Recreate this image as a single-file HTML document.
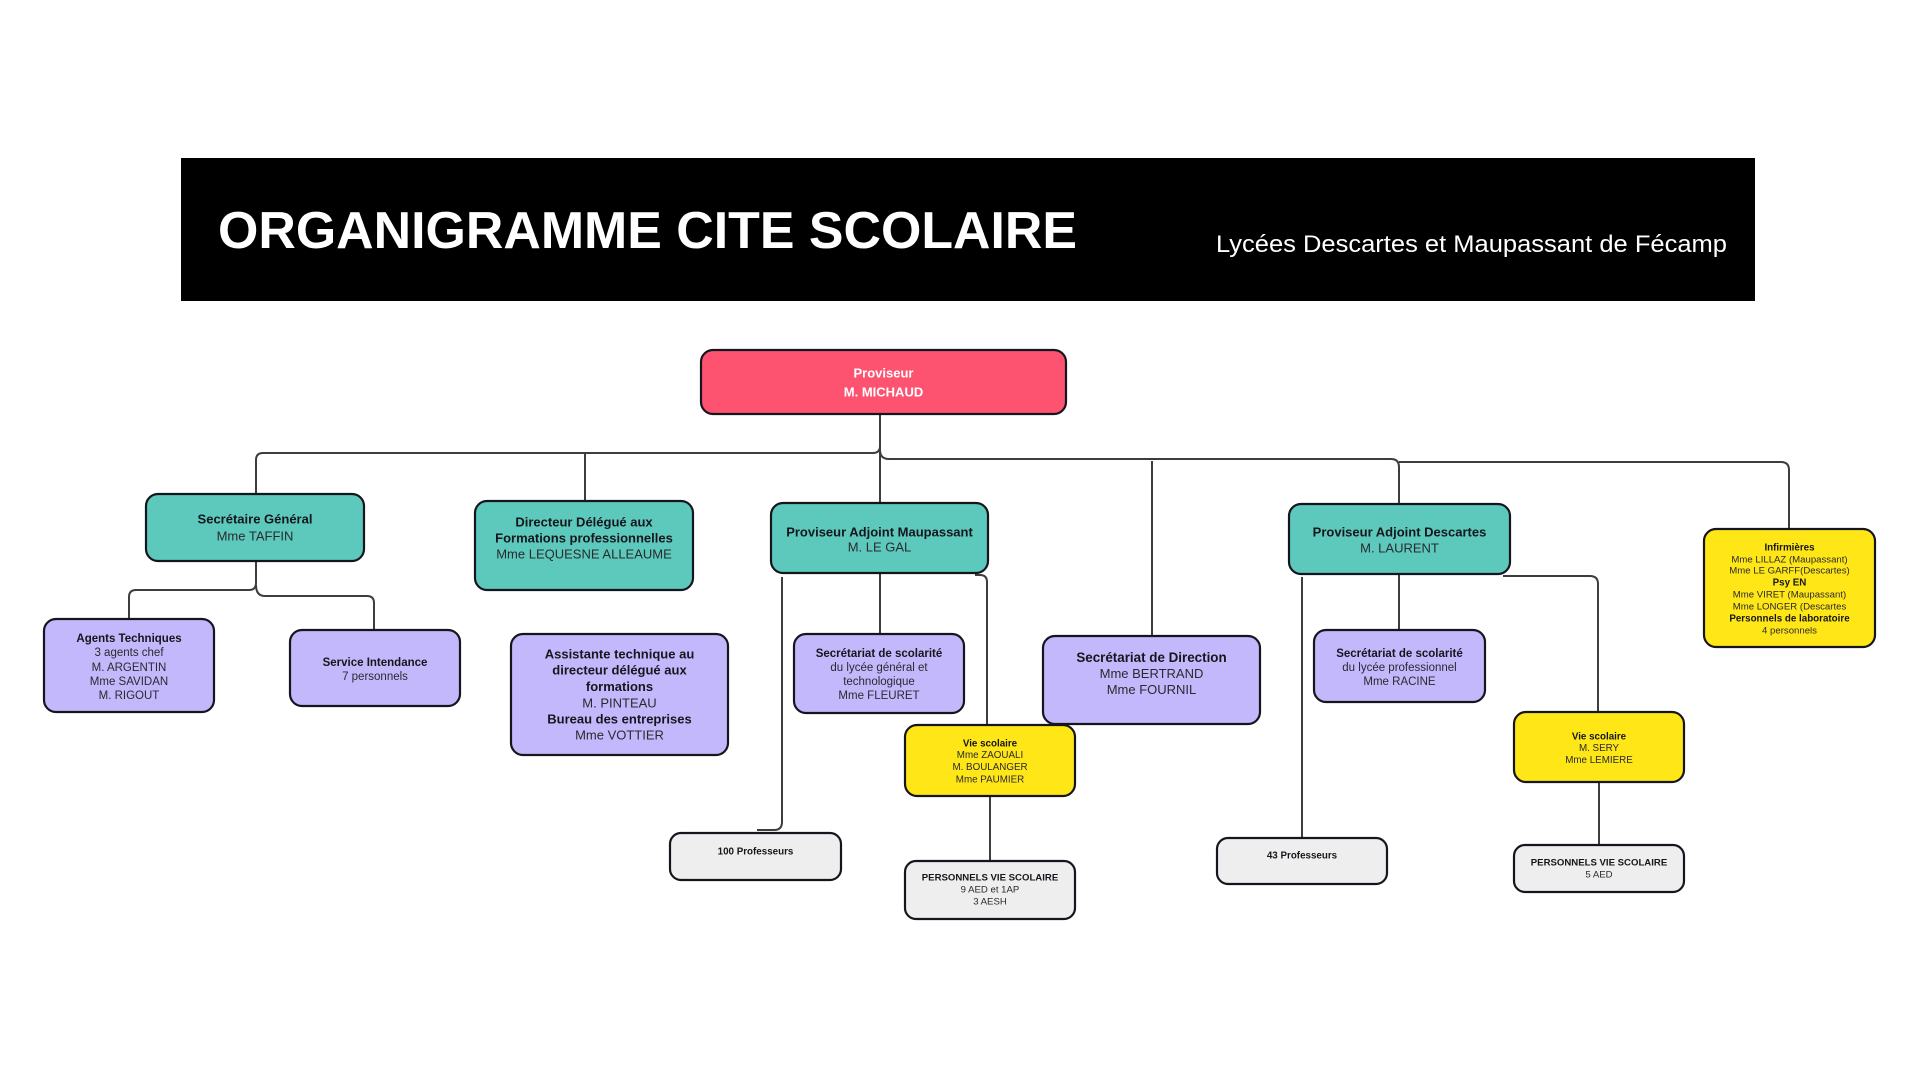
<!DOCTYPE html>
<html><head><meta charset="utf-8"><style>
html,body{margin:0;padding:0;background:#fff;}
svg{display:block;}
text{font-family:"Liberation Sans",Arial,sans-serif;}
.b{font-weight:bold;fill:#16161c;}
.r{fill:#2a2a2e;}
</style></head><body>
<svg width="1920" height="1080" viewBox="0 0 1920 1080" xmlns="http://www.w3.org/2000/svg">
<rect x="0" y="0" width="1920" height="1080" fill="#fff"/>
<!-- Title bar -->
<rect x="181" y="158" width="1574" height="143" fill="#000"/>
<text x="218" y="248" font-size="52" font-weight="bold" fill="#fff" textLength="859" lengthAdjust="spacingAndGlyphs">ORGANIGRAMME CITE SCOLAIRE</text>
<text x="1727" y="252" font-size="24" fill="#fff" text-anchor="end" textLength="511" lengthAdjust="spacingAndGlyphs">Lycées Descartes et Maupassant de Fécamp</text>

<!-- connectors -->
<g fill="none" stroke="#3d3d40" stroke-width="2">
<path d="M880 415 V446 Q880 453 873 453 H263 Q256 453 256 460 V493"/>
<path d="M585 453 V500"/>
<path d="M880 446 V502"/>
<path d="M880 450 Q880 459 889 459 H1391 Q1399 459 1399 467 V503"/>
<path d="M1152 461 V635"/>
<path d="M1399 462 H1781 Q1789 462 1789 470 V528"/>
<path d="M256 562 V583 Q256 590 249 590 H136 Q129 590 129 597 V618"/>
<path d="M256 585 Q256 596 265 596 H367 Q374 596 374 603 V629"/>
<path d="M782 577 V822 Q782 830 774 830 H757"/>
<path d="M880 574 V633"/>
<path d="M975 575 H980 Q987 575 987 582 V724"/>
<path d="M990 797 V860"/>
<path d="M1302 577 V837"/>
<path d="M1399 575 V629"/>
<path d="M1503 576 H1590 Q1598 576 1598 584 V711"/>
<path d="M1599 783 V844"/>
</g>

<!-- boxes -->
<g stroke="#15151d" stroke-width="2.2">
<rect x="701" y="350" width="365" height="64" rx="12" fill="#FE5370"/>
<rect x="146" y="494" width="218" height="67" rx="12" fill="#5CC9BC"/>
<rect x="475" y="501" width="218" height="89" rx="12" fill="#5CC9BC"/>
<rect x="771" y="503" width="217" height="70" rx="12" fill="#5CC9BC"/>
<rect x="1289" y="504" width="221" height="70" rx="12" fill="#5CC9BC"/>
<rect x="1704" y="529" width="171" height="118" rx="12" fill="#FFE617"/>
<rect x="44" y="619" width="170" height="93" rx="12" fill="#C4B8FC"/>
<rect x="290" y="630" width="170" height="76" rx="12" fill="#C4B8FC"/>
<rect x="511" y="634" width="217" height="121" rx="12" fill="#C4B8FC"/>
<rect x="794" y="634" width="170" height="79" rx="12" fill="#C4B8FC"/>
<rect x="1043" y="636" width="217" height="88" rx="12" fill="#C4B8FC"/>
<rect x="1314" y="630" width="171" height="72" rx="12" fill="#C4B8FC"/>
<rect x="905" y="725" width="170" height="71" rx="12" fill="#FFE617"/>
<rect x="1514" y="712" width="170" height="70" rx="12" fill="#FFE617"/>
<rect x="670" y="833" width="171" height="47" rx="11" fill="#EEEEEE"/>
<rect x="905" y="861" width="170" height="58" rx="11" fill="#EEEEEE"/>
<rect x="1217" y="838" width="170" height="46" rx="11" fill="#EEEEEE"/>
<rect x="1514" y="845" width="170" height="47" rx="11" fill="#EEEEEE"/>
</g>

<!-- texts -->
<g text-anchor="middle">
<text x="883.5" y="377.7" font-size="13" font-weight="bold" fill="#fff">Proviseur</text>
<text x="883.5" y="396.7" font-size="13" font-weight="bold" fill="#fff">M. MICHAUD</text>

<text x="255" y="523.7" font-size="13" class="b">Secrétaire Général</text>
<text x="255" y="540.7" font-size="13" class="r">Mme TAFFIN</text>

<text x="584" y="526.7" font-size="13" class="b">Directeur Délégué aux</text>
<text x="584" y="542.7" font-size="13" class="b">Formations professionnelles</text>
<text x="584" y="558.7" font-size="13" class="r">Mme LEQUESNE ALLEAUME</text>

<text x="879.5" y="536.7" font-size="13" class="b">Proviseur Adjoint Maupassant</text>
<text x="879.5" y="551.7" font-size="13" class="r">M. LE GAL</text>

<text x="1399.5" y="536.7" font-size="13" class="b">Proviseur Adjoint Descartes</text>
<text x="1399.5" y="552.7" font-size="13" class="r">M. LAURENT</text>

<text x="1789.5" y="550.6" font-size="9.8" class="b">Infirmières</text>
<text x="1789.5" y="562.6" font-size="9.6" class="r">Mme LILLAZ (Maupassant)</text>
<text x="1789.5" y="573.6" font-size="9.6" class="r">Mme LE GARFF(Descartes)</text>
<text x="1789.5" y="585.6" font-size="9.8" class="b">Psy EN</text>
<text x="1789.5" y="597.6" font-size="9.6" class="r">Mme VIRET (Maupassant)</text>
<text x="1789.5" y="609.6" font-size="9.6" class="r">Mme LONGER (Descartes</text>
<text x="1789.5" y="621.6" font-size="9.8" class="b">Personnels de laboratoire</text>
<text x="1789.5" y="633.6" font-size="9.6" class="r">4 personnels</text>

<text x="129" y="642.1" font-size="11.5" class="b">Agents Techniques</text>
<text x="129" y="656.1" font-size="11.5" class="r">3 agents chef</text>
<text x="129" y="671.1" font-size="11.5" class="r">M.  ARGENTIN</text>
<text x="129" y="685.1" font-size="11.5" class="r">Mme SAVIDAN</text>
<text x="129" y="699.1" font-size="11.5" class="r">M. RIGOUT</text>

<text x="375" y="666.1" font-size="11.5" class="b">Service Intendance</text>
<text x="375" y="680.1" font-size="11.5" class="r">7 personnels</text>

<text x="619.5" y="658.7" font-size="13" class="b">Assistante technique au</text>
<text x="619.5" y="674.7" font-size="13" class="b">directeur délégué aux</text>
<text x="619.5" y="691.2" font-size="13" class="b">formations</text>
<text x="619.5" y="707.4" font-size="13" class="r">M. PINTEAU</text>
<text x="619.5" y="723.6" font-size="13" class="b">Bureau des entreprises</text>
<text x="619.5" y="739.7" font-size="13" class="r">Mme VOTTIER</text>

<text x="879" y="657.1" font-size="11.5" class="b">Secrétariat de scolarité</text>
<text x="879" y="671.1" font-size="11.5" class="r">du lycée général et</text>
<text x="879" y="685.1" font-size="11.5" class="r">technologique</text>
<text x="879" y="699.1" font-size="11.5" class="r">Mme FLEURET</text>

<text x="1151.5" y="661.9" font-size="13.4" class="b">Secrétariat de Direction</text>
<text x="1151.5" y="677.9" font-size="13" class="r">Mme BERTRAND</text>
<text x="1151.5" y="693.9" font-size="13" class="r">Mme FOURNIL</text>

<text x="1399.5" y="657.1" font-size="11.5" class="b">Secrétariat de scolarité</text>
<text x="1399.5" y="671.1" font-size="11.5" class="r">du lycée professionnel</text>
<text x="1399.5" y="685.1" font-size="11.5" class="r">Mme RACINE</text>

<text x="990" y="746.6" font-size="9.8" class="b">Vie scolaire</text>
<text x="990" y="758.1" font-size="9.8" class="r">Mme ZAOUALI</text>
<text x="990" y="770.1" font-size="9.8" class="r">M. BOULANGER</text>
<text x="990" y="782.6" font-size="9.8" class="r">Mme PAUMIER</text>

<text x="1599" y="739.6" font-size="9.8" class="b">Vie scolaire</text>
<text x="1599" y="751.1" font-size="9.8" class="r">M. SERY</text>
<text x="1599" y="763.1" font-size="9.8" class="r">Mme LEMIERE</text>

<text x="755.5" y="854.6" font-size="9.8" class="b">100 Professeurs</text>

<text x="990" y="880.6" font-size="9.6" class="b">PERSONNELS VIE SCOLAIRE</text>
<text x="990" y="892.6" font-size="9.6" class="r">9 AED et 1AP</text>
<text x="990" y="904.6" font-size="9.6" class="r">3 AESH</text>

<text x="1302" y="858.6" font-size="9.8" class="b">43 Professeurs</text>

<text x="1599" y="865.6" font-size="9.6" class="b">PERSONNELS VIE SCOLAIRE</text>
<text x="1599" y="877.6" font-size="9.6" class="r">5 AED</text>
</g>
</svg>
</body></html>
